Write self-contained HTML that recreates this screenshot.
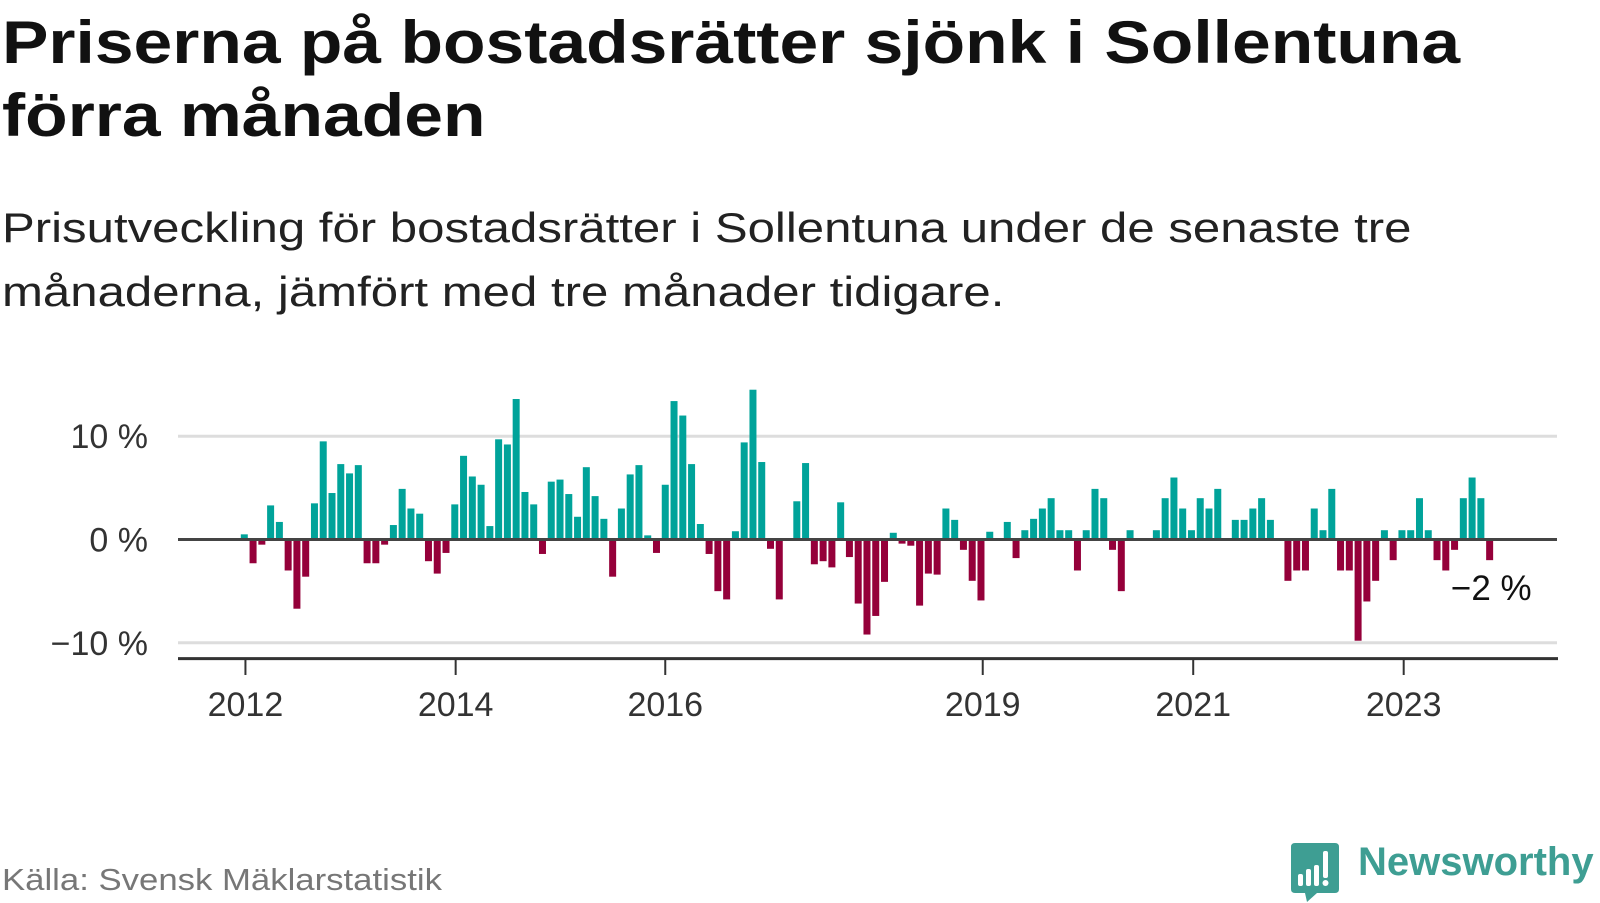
<!DOCTYPE html>
<html><head><meta charset="utf-8"><style>
html,body{margin:0;padding:0;background:#fff;}
body{width:1600px;height:900px;position:relative;overflow:hidden;font-family:"Liberation Sans",sans-serif;}
.t{position:absolute;white-space:nowrap;transform-origin:0 0;}
</style></head><body>
<div class="t" style="left:2px;top:6px;font-size:60px;font-weight:bold;line-height:73px;color:#111;transform:scaleX(1.16);">Priserna på bostadsrätter sjönk i Sollentuna<br>förra månaden</div>
<div class="t" style="left:2px;top:196px;font-size:42px;line-height:64px;color:#222;transform:scaleX(1.17);">Prisutveckling för bostadsrätter i Sollentuna under de senaste tre<br>månaderna, jämfört med tre månader tidigare.</div>
<svg id="chart" width="1600" height="900" style="position:absolute;left:0;top:0;"></svg>
<div class="t" style="left:2px;top:862px;font-size:31px;color:#777;transform:scaleX(1.12);">Källa: Svensk Mäklarstatistik</div>
<svg width="52" height="60" style="position:absolute;left:1291px;top:843px;">
<path d="M4 0 H44 Q48 0 48 4 V46 Q48 50 44 50 H26 L16 59 L14 50 H4 Q0 50 0 46 V4 Q0 0 4 0Z" fill="#3e9e93"/>
<rect x="7" y="31" width="5" height="12" rx="2" fill="#fff"/><rect x="15" y="26" width="5" height="17" rx="2" fill="#fff"/><rect x="23" y="22" width="5" height="21" rx="2" fill="#fff"/><rect x="32" y="8" width="5" height="27" rx="2" fill="#fff"/><circle cx="34.5" cy="40" r="3" fill="#fff"/>
</svg>
<div class="t" style="left:1358px;top:840px;font-size:40px;font-weight:bold;color:#3e9e93;">Newsworthy</div>
<script>
const values=[0.5,-2.3,-0.5,3.3,1.7,-3.0,-6.7,-3.6,3.5,9.5,4.5,7.3,6.4,7.2,-2.3,-2.3,-0.5,1.4,4.9,3.0,2.5,-2.1,-3.3,-1.3,
3.4,8.1,6.1,5.3,1.3,9.7,9.2,13.6,4.6,3.4,-1.4,5.6,5.8,4.4,2.2,7.0,4.2,2.0,-3.6,3.0,6.3,7.2,0.4,-1.3,
5.3,13.4,12.0,7.3,1.5,-1.4,-5.0,-5.8,0.8,9.4,14.5,7.5,-0.9,-5.8,0,3.7,7.4,-2.4,-2.1,-2.7,3.6,-1.7,-6.2,-9.2,
-7.4,-4.1,0.65,-0.4,-0.6,-6.4,-3.3,-3.4,3.0,1.9,-1.0,-4.0,-5.9,0.75,0,1.7,-1.8,0.9,2.0,3.0,4.0,0.9,0.9,-3.0,
0.9,4.9,4.0,-1.0,-5.0,0.9,0,0,0.9,4.0,6.0,3.0,0.9,4.0,3.0,4.9,0,1.9,1.9,3.0,4.0,1.9,0,-4.0,-3.0,-3.0,
3.0,0.9,4.9,-3.0,-3.0,-9.8,-6.0,-4.0,0.9,-2.0,0.9,0.9,4.0,0.9,-2.0,-3.0,-1.0,4.0,6.0,4.0,-2.0];
const yTicks=[10,0,-10];
const yTickLabels=["10 %","0 %","−10 %"];
const xTickIdx=[0.13,24.1,48.0,84.2,108.2,132.2];
const xTickLabels=["2012","2014","2016","2019","2021","2023"];
const lastLabel="−2 %";
const NS="http://www.w3.org/2000/svg";
const svg=document.getElementById('chart');
const x0=244.3, step=8.77, bw=7;
const xs=i=>x0+i*step;
const y0=539.5, pxPer=10.33;
const ys=v=>y0-v*pxPer;
function mk(t,a){const e=document.createElementNS(NS,t);for(const k in a)e.setAttribute(k,a[k]);svg.appendChild(e);return e;}
yTicks.forEach((v,i)=>{
  if(v!==0){const g=mk('line',{x1:178,x2:1557,y1:ys(v),y2:ys(v),stroke:'#ddd','stroke-width':3});
  
  }
  const t=mk('text',{x:148,y:ys(v)+12,'text-anchor':'end','font-size':34,fill:'#333','font-family':'Liberation Sans, sans-serif'});
  t.textContent=yTickLabels[i];
  
  
});
values.forEach((v,i)=>{
  if(v===0)return;
  const top=v>0?ys(v):y0, h=Math.abs(ys(v)-y0);
  const r=mk('rect',{x:xs(i)-bw/2,y:top,width:bw,height:h,fill:v>0?'#00a39a':'#95003a'});
  
  
});
const zl=mk('line',{x1:178,x2:1557,y1:y0,y2:y0,stroke:'#444','stroke-width':3});


const xa=mk('line',{x1:178,x2:1558,y1:658.6,y2:658.6,stroke:'#333','stroke-width':3});


xTickIdx.forEach((ti,i)=>{
  const x=xs(ti);
  const tk=mk('line',{x1:x,x2:x,y1:659,y2:675,stroke:'#333','stroke-width':2});
  
  
  const t=mk('text',{x:x,y:716,'text-anchor':'middle','font-size':34,fill:'#333','font-family':'Liberation Sans, sans-serif'});
  t.textContent=xTickLabels[i];
  
  
});
const li=values.length-1;
const lt=mk('text',{x:xs(li)+42,y:ys(values[li])+40,'text-anchor':'end','font-size':35,fill:'#111','font-family':'Liberation Sans, sans-serif'});
lt.textContent=lastLabel;


</script>
</body></html>
